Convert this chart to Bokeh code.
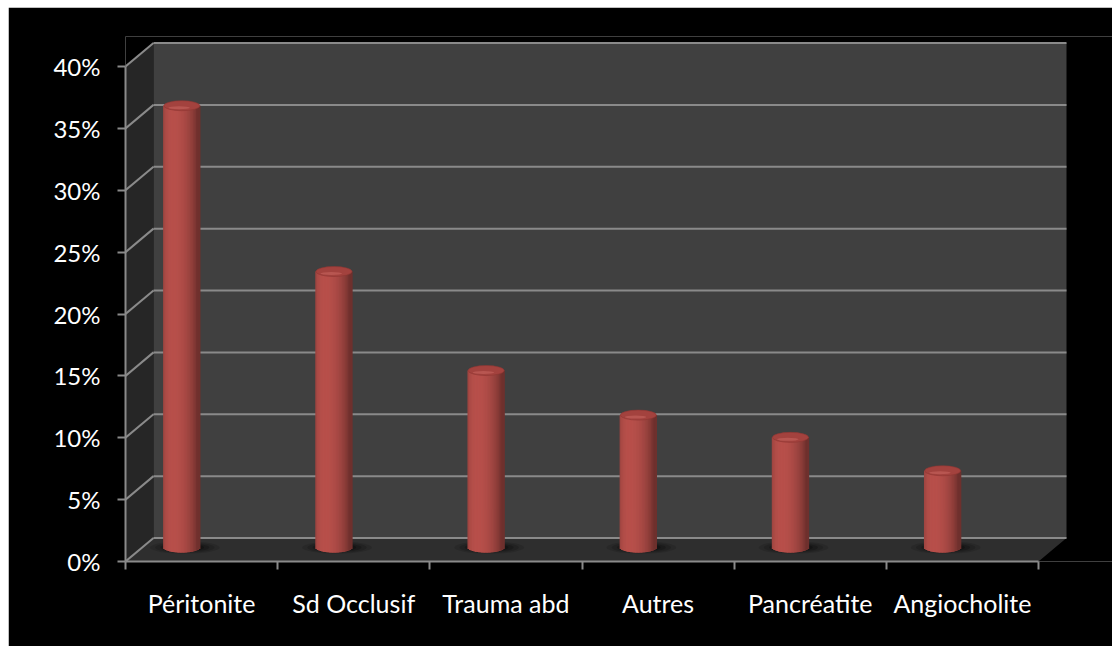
import numpy as np
from bokeh.plotting import figure
from bokeh.models import Range1d, FixedTicker
from bokeh.embed import file_html
from bokeh.resources import INLINE

# Data
categories = ["Péritonite", "Sd Occlusif", "Trauma abd", "Autres", "Pancréatite", "Angiocholite"]
values = [35.7, 22.3, 14.3, 10.7, 8.9, 6.2]          # percent
y_ticks = [0, 5, 10, 15, 20, 25, 30, 35, 40]
y_labels = ["0%", "5%", "10%", "15%", "20%", "25%", "30%", "35%", "40%"]

# Geometry of the pseudo-3D box (screen px converted to data units)
PX_X = 913.0 / len(categories)     # px per category
PX_Y = 495.0 / 40.0                # px per percent point
DX = 28.0 / PX_X                   # depth offset, horizontal
DY = 23.5 / PX_Y                   # depth offset, vertical
YMAX = y_ticks[-1]
n = len(categories)

BAR_SHIFT = 0.37                   # cylinder position inside each category slot
BASE = 14.0 / PX_Y                 # floor level at the cylinders' depth
R = 18.0 / PX_X                    # cylinder radius (x units)
ELL_H = 10.0 / PX_Y                # ellipse height of caps (y units)

GRID = "#8a8a8a"
FONT = "Lato"

p = figure(width=1104, height=639,
           x_range=Range1d(0, 987.0 / PX_X), y_range=Range1d(0, 525.0 / PX_Y),
           output_backend="svg", toolbar_location=None,
           min_border_left=117, min_border_right=0,
           min_border_top=29, min_border_bottom=85,
           background_fill_color="black", border_fill_color="black",
           outline_line_color=None)
p.margin = (7, 0, 0, 8)
p.xgrid.visible = False
p.ygrid.visible = False

# Walls and floor
p.patch([0, 0, DX, DX], [0, YMAX, YMAX + DY, DY], fill_color="#262626", line_color=None)
p.quad(left=[DX], right=[n + DX], bottom=[DY], top=[YMAX + DY],
       fill_color="#404040", line_color=None)
p.patch([0, n, n + DX, DX], [0, 0, DY, DY], fill_color="#2e2e2e", line_color=None)

# Gridlines on the back wall and the left side wall
p.segment(x0=[DX] * len(y_ticks), y0=[t + DY for t in y_ticks],
          x1=[n + DX] * len(y_ticks), y1=[t + DY for t in y_ticks],
          line_color=GRID, line_width=2)
p.segment(x0=[0] * len(y_ticks), y0=y_ticks,
          x1=[DX] * len(y_ticks), y1=[t + DY for t in y_ticks],
          line_color=GRID, line_width=2)

bar_x = [i + BAR_SHIFT for i in range(n)]

# Soft shadows under the cylinders
for scale, alpha in [(1.0, 0.12), (0.85, 0.15), (0.7, 0.2), (0.55, 0.25)]:
    p.ellipse(x=[x + 0.02 for x in bar_x], y=[BASE] * n,
              width=0.46 * scale, height=1.0 * scale,
              fill_color="black", fill_alpha=alpha, line_color=None)

# Solid body underneath the shading strips
p.vbar(x=bar_x, width=2 * R, bottom=[BASE] * n, top=[BASE + v for v in values],
       fill_color="#9a3f3b", line_color=None)
p.ellipse(x=bar_x, y=[BASE] * n, width=2 * R, height=ELL_H,
          fill_color="#9a3f3b", line_color=None)

# Cylinders as shaded vertical strips
NS = 24
base_rgb = np.array([184, 80, 75])
xs, w, bots, tops, cols = [], [], [], [], []
for bx, v in zip(bar_x, values):
    for k in range(NS):
        u = (k + 0.5) / NS * 2 - 1
        theta = np.arcsin(u)
        inten = 0.6 + 0.4 * max(0.0, np.cos(theta + 0.45))
        c = np.clip(base_rgb * inten, 0, 255).astype(int)
        xs.append(bx - R + (k + 0.5) * (2 * R / NS))
        w.append(2 * R / NS * 1.9)
        bots.append(BASE - ELL_H / 2 * np.sqrt(max(0.0, 1 - u * u)))
        tops.append(BASE + v)
        cols.append("#%02x%02x%02x" % tuple(c))
p.vbar(x=xs, width=w, bottom=bots, top=tops, fill_color=cols, line_color=None)

# Caps
p.ellipse(x=bar_x, y=[BASE + v for v in values], width=2 * R, height=ELL_H,
          fill_color="#a3423e", line_color="#8e3633", line_width=0.6)
p.ellipse(x=[x - 0.15 * R for x in bar_x], y=[BASE + v - 0.2 * ELL_H for v in values],
          width=1.2 * R, height=0.3 * ELL_H,
          fill_color="#c0605a", fill_alpha=0.7, line_color=None)

# Axes
p.yaxis.ticker = FixedTicker(ticks=y_ticks)
p.yaxis.major_label_overrides = {t: l for t, l in zip(y_ticks, y_labels)}
p.yaxis.bounds = (0, YMAX)
p.yaxis.axis_line_color = GRID
p.yaxis.axis_line_width = 2
p.yaxis.major_tick_line_color = GRID
p.yaxis.major_tick_line_width = 2
p.yaxis.major_tick_out = 8
p.yaxis.major_tick_in = 0
p.yaxis.minor_tick_line_color = None
p.yaxis.major_label_standoff = 17
p.yaxis.major_label_text_color = "white"
p.yaxis.major_label_text_font = FONT
p.yaxis.major_label_text_font_size = "24px"

label_pos = [i + 0.5 for i in range(n)]
p.xaxis.ticker = FixedTicker(ticks=label_pos, minor_ticks=list(range(n + 1)))
p.xaxis.major_label_overrides = {x: c for x, c in zip(label_pos, categories)}
p.xaxis.bounds = (0, n)
p.xaxis.axis_line_color = GRID
p.xaxis.axis_line_width = 2
p.xaxis.major_tick_line_color = None
p.xaxis.major_tick_out = 8
p.xaxis.major_tick_in = 0
p.xaxis.minor_tick_line_color = GRID
p.xaxis.minor_tick_line_width = 2
p.xaxis.minor_tick_out = 8
p.xaxis.minor_tick_in = 0
p.xaxis.major_label_standoff = 18
p.xaxis.major_label_text_color = "white"
p.xaxis.major_label_text_font = FONT
p.xaxis.major_label_text_font_size = "25px"

open("out.html", "w").write(file_html(p, INLINE))
